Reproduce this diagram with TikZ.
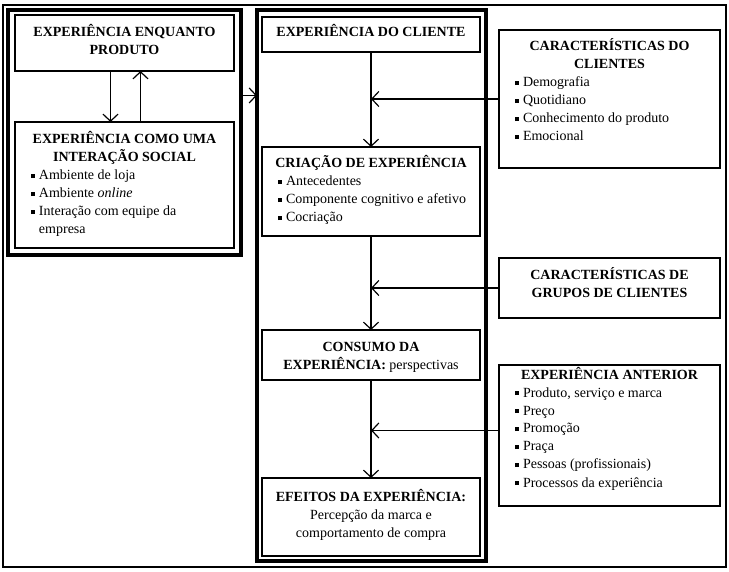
\documentclass[tikz,border=0pt]{standalone}
\usepackage{fontspec}
\setmainfont{Liberation Serif}
\usetikzlibrary{arrows.meta,calc}

\newcommand{\boxtxt}[3]{\parbox[t][#2][t]{#1}{\raggedright #3}}
\newcommand{\ttl}[2]{{\centering\bfseries\rule{0pt}{#1}#2\par}}
\newcommand{\itm}[1]{\par\hangindent=24pt\hangafter=1\hspace*{16pt}\makebox[8pt][l]{\rule[1.8pt]{3.8pt}{3.8pt}}#1}

\begin{document}
\begin{tikzpicture}[
		x=1pt, y=-1pt,
		font=\fontsize{14}{18}\selectfont,
		post/.style={->,>={Straight Barb[length=7pt,width=15pt]},line width=1.2pt},
		box/.style={draw,line width=1.6pt,anchor=north west,inner sep=0pt,outer sep=0pt},
		frm/.style={draw,line width=4pt,anchor=north west,inner sep=0pt,outer sep=0pt}]

	\useasboundingbox (0,0) rectangle (729,572);
	\draw[line width=1.5pt] (3,5) rectangle (726,567);

	% left group
	\node[frm, minimum width=233pt, minimum height=245pt] (lfrm) at (8,10) {};
	\node[box] (prod) at (15,15) {\boxtxt{219pt}{56pt}{\ttl{22pt}{EXPERIÊNCIA ENQUANTO\\PRODUTO}}};
	\node[box] (social) at (15,122) {\boxtxt{219pt}{126pt}{\ttl{22pt}{EXPERIÊNCIA COMO UMA\\INTERAÇÃO SOCIAL}
		\itm{Ambiente de loja}
		\itm{Ambiente \textit{online}}
		\itm{Interação com equipe da\newline empresa}}};

	% centre column
	\node[frm, minimum width=229pt, minimum height=551pt] (cfrm) at (257,10) {};
	\node[box] (cli) at (262,17) {\boxtxt{218pt}{35pt}{\ttl{20pt}{EXPERIÊNCIA DO CLIENTE}}};
	\node[box] (cria) at (262,147) {\boxtxt{218pt}{89pt}{\ttl{21pt}{CRIAÇÃO DE EXPERIÊNCIA}
		\itm{Antecedentes}
		\itm{Componente cognitivo e afetivo}
		\itm{Cocriação}}};
	\node[box] (cons) at (262,330) {\boxtxt{218pt}{50pt}{\ttl{22pt}{CONSUMO DA\\EXPERIÊNCIA:\mdseries\ perspectivas}}};
	\node[box] (efe) at (262,478) {\boxtxt{218pt}{78pt}{{\centering\rule{0pt}{23pt}\textbf{EFEITOS DA EXPERIÊNCIA:}\\
		Percepção da marca e\\comportamento de compra\par}}};

	% right column
	\node[box] (carac) at (499,30) {\boxtxt{221pt}{138pt}{\ttl{21pt}{CARACTERÍSTICAS DO\\CLIENTES}
		\itm{Demografia}
		\itm{Quotidiano}
		\itm{Conhecimento do produto}
		\itm{Emocional}}};
	\node[box] (grupos) at (499,258) {\boxtxt{221pt}{60pt}{\ttl{22pt}{CARACTERÍSTICAS DE\\GRUPOS DE CLIENTES}}};
	\node[box] (anter) at (499,365) {\boxtxt{221pt}{141pt}{\ttl{14pt}{EXPERIÊNCIA ANTERIOR}
		\itm{Produto, serviço e marca}
		\itm{Preço}
		\itm{Promoção}
		\itm{Praça}
		\itm{Pessoas (profissionais)}
		\itm{Processos da experiência}}};

	% connectors
	\draw[post] ([xshift=-14pt]prod.south) -- ([xshift=-14pt]prod.south |- social.north);
	\draw[post] ([xshift=16pt]social.north) -- ([xshift=16pt]social.north |- prod.south);
	\coordinate (gap) at ($(prod.south)!.48!(social.north)$);
	\draw[post] (lfrm.east |- gap) -- (cfrm.west |- gap);

	\draw[post] (cli.south) -- (cria.north);
	\draw[post] (cria.south) -- (cons.north);
	\draw[post] (cons.south) -- (efe.north);
	\draw[post] (carac.west) -- (carac.west -| cli.south);
	\draw[post] (grupos.west) -- (grupos.west -| cria.south);
	\draw[post] ([yshift=5pt]anter.west) -- ([yshift=5pt]anter.west -| cons.south);
\end{tikzpicture}
\end{document}
